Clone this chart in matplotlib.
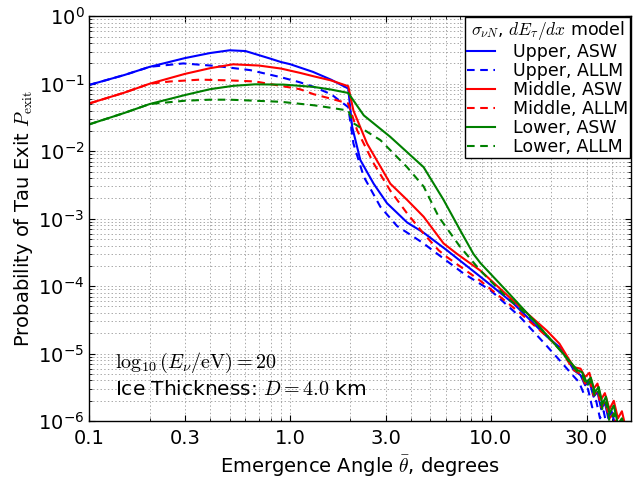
import matplotlib
matplotlib.use("Agg")
import matplotlib.pyplot as plt
from matplotlib.ticker import NullFormatter

plt.rcParams['mathtext.fontset'] = 'cm'
plt.rcParams['font.family'] = ['DejaVu Sans']
plt.rcParams['lines.scale_dashes'] = False

# emergence angle (deg) and exit probability
upper_asw_x = [0.1, 0.15, 0.2, 0.3, 0.4, 0.5, 0.6, 0.8, 0.9, 1.0, 1.3, 1.6, 1.95,
               2.04, 2.24, 2.61, 3.04, 3.83, 4.63, 6.05, 8.88, 13, 19, 22, 24, 25.9,
               28, 29.5, 31, 32.5, 34, 35.5, 37, 38.5, 40, 42]
upper_asw_y = [0.096, 0.135, 0.178, 0.24, 0.285, 0.313, 0.305, 0.235, 0.21, 0.195, 0.15, 0.115, 0.085,
               0.023, 0.0074, 0.0033, 0.0017, 0.00088, 0.00062, 0.00034, 0.000138, 5.5e-5, 1.8e-5, 1.25e-5, 8.5e-6, 5.7e-6,
               4.8e-6, 3.4e-6, 3.9e-6, 2.3e-6, 2.7e-6, 1.5e-6, 1.9e-6, 1.1e-6, 1.4e-6, 8e-7]

upper_allm_x = [0.1, 0.15, 0.2, 0.294, 0.43, 0.634, 0.9, 1.12, 1.31, 1.6, 1.95,
                2.07, 2.33, 2.82, 3.41, 4.63, 5.0, 7.3, 9.96, 14, 19, 22, 25.9,
                27.5, 29, 30.5, 32, 33.5, 35, 36.5, 38]
upper_allm_y = [0.096, 0.135, 0.178, 0.2, 0.183, 0.159, 0.125, 0.105, 0.09, 0.07, 0.045,
                0.013, 0.0042, 0.0015, 0.00078, 0.00043, 0.00036, 0.000155, 8.7e-5, 3.5e-5, 1.3e-5, 8e-6, 4.6e-6,
                3.8e-6, 2.6e-6, 3e-6, 1.6e-6, 2e-6, 1.1e-6, 1.4e-6, 8e-7]

middle_asw_x = [0.1, 0.15, 0.2, 0.3, 0.4, 0.52, 0.7, 0.9, 1.12, 1.31, 1.6, 1.95,
                2.07, 2.42, 3.16, 3.83, 4.63, 5.82, 6.8, 8.88, 14, 19, 22, 25.9,
                28, 29.5, 31, 32.5, 34, 35.5, 37, 39, 41, 43, 45, 47]
middle_asw_y = [0.051, 0.074, 0.1, 0.14, 0.17, 0.194, 0.186, 0.168, 0.145, 0.129, 0.112, 0.092,
                0.04, 0.013, 0.0033, 0.0019, 0.00107, 0.00043, 0.0003, 0.00017, 4.9e-5, 2.2e-5, 1.4e-5, 6.3e-6,
                6e-6, 4.5e-6, 5.2e-6, 3e-6, 3.6e-6, 2.1e-6, 2.6e-6, 1.5e-6, 2e-6, 1.1e-6, 1.4e-6, 8e-7]

middle_allm_x = [0.1, 0.15, 0.2, 0.253, 0.357, 0.5, 0.67, 0.9, 1.12, 1.31, 1.6, 1.95,
                 2.16, 2.61, 3.16, 3.83, 4.63, 5.5, 6.05, 8.88, 14, 19, 22, 25.9,
                 28, 29.5, 31, 32.5, 34, 35.5, 37, 39, 41, 43]
middle_allm_y = [0.051, 0.074, 0.1, 0.108, 0.115, 0.112, 0.108, 0.093, 0.083, 0.07, 0.06, 0.051,
                 0.0204, 0.0066, 0.0026, 0.0012, 0.0006, 0.00034, 0.00027, 0.00012, 4e-5, 1.8e-5, 1.2e-5, 5.7e-6,
                 5e-6, 3.6e-6, 4.2e-6, 2.4e-6, 2.9e-6, 1.6e-6, 2e-6, 1.1e-6, 1.3e-6, 7e-7]

lower_asw_x = [0.1, 0.15, 0.2, 0.3, 0.4, 0.52, 0.67, 0.93, 1.3, 1.6, 1.95,
               2.33, 3.16, 4.63, 5.82, 7.05, 8.2, 8.88, 11.9, 16.4, 22.3, 27,
               28.5, 30, 31.5, 33, 34.5, 36, 37.5, 39, 41, 43, 45, 47]
lower_asw_y = [0.025, 0.037, 0.05, 0.068, 0.083, 0.093, 0.098, 0.097, 0.09, 0.082, 0.073,
               0.034, 0.0163, 0.0058, 0.0019, 0.00067, 0.0003, 0.00022, 8.7e-5, 3.1e-5, 1.1e-5, 5.7e-6,
               5.3e-6, 3.8e-6, 4.4e-6, 2.7e-6, 3.2e-6, 1.8e-6, 2.3e-6, 1.3e-6, 1.7e-6, 9e-7, 1.1e-6, 7e-7]

lower_allm_x = [0.1, 0.15, 0.2, 0.3, 0.4, 0.5, 0.9, 1.31, 1.6, 1.95,
                2.07, 2.82, 3.83, 4.63, 5.5, 7.05, 8.88, 11.9, 16.4, 22.3, 27,
                28.5, 30, 31.5, 33, 34.5, 36, 37.5, 39, 41, 43]
lower_allm_y = [0.025, 0.037, 0.05, 0.056, 0.058, 0.058, 0.054, 0.048, 0.044, 0.04,
                0.026, 0.0146, 0.0058, 0.003, 0.00107, 0.00038, 0.00017, 7e-5, 3.1e-5, 1.1e-5, 5.4e-6,
                4.9e-6, 3.3e-6, 3.9e-6, 2.3e-6, 2.8e-6, 1.5e-6, 1.9e-6, 1e-6, 1.3e-6, 7e-7]

x_ticks = [0.1, 0.3, 1.0, 3.0, 10.0, 30.0]
x_tick_labels = ['0.1', '0.3', '1.0', '3.0', '10.0', '30.0']

series = [
    (upper_asw_x, upper_asw_y, 'b', '-', 'Upper, ASW'),
    (upper_allm_x, upper_allm_y, 'b', '--', 'Upper, ALLM'),
    (middle_asw_x, middle_asw_y, 'r', '-', 'Middle, ASW'),
    (middle_allm_x, middle_allm_y, 'r', '--', 'Middle, ALLM'),
    (lower_asw_x, lower_asw_y, 'g', '-', 'Lower, ASW'),
    (lower_allm_x, lower_allm_y, 'g', '--', 'Lower, ALLM'),
]

fig = plt.figure(figsize=(6.42, 4.78), dpi=100)
ax = fig.add_axes([0.139, 0.119, 0.844, 0.847])

for xs, ys, c, ls, lab in series:
    if ls == '--':
        ax.plot(xs, ys, color=c, lw=1.5, ls=(0, (5.5, 4)), label=lab)
    else:
        ax.plot(xs, ys, color=c, lw=1.5, ls='-', label=lab)

ax.set_xscale('log')
ax.set_yscale('log')
ax.set_xlim(0.1, 50)
ax.set_ylim(1e-6, 1)
ax.set_xticks(x_ticks)
ax.set_xticklabels(x_tick_labels)
ax.xaxis.set_minor_formatter(NullFormatter())
ax.yaxis.set_minor_formatter(NullFormatter())

ax.tick_params(which='both', direction='in', top=True, right=True, labelsize=14)
ax.tick_params(which='major', length=4)
ax.tick_params(which='minor', length=2)
ax.tick_params(axis='x', which='major', pad=6)
ax.grid(True, which='both', ls=':', color='0.6', lw=0.6)
for sp in ax.spines.values():
    sp.set_linewidth(1.0)

ax.set_xlabel(r'Emergence Angle $\bar{\theta}$, degrees', fontsize=14, labelpad=4)
ax.set_ylabel(r'Probability of Tau Exit $P_{\rm exit}$', fontsize=14, labelpad=2)

ax.text(0.048, 0.143, r'$\log_{10}(E_\nu/{\rm eV}) = 20$', transform=ax.transAxes,
        fontsize=14.5, va='center', ha='left')
ax.text(0.048, 0.077, r'Ice Thickness: $D = 4.0$ km', transform=ax.transAxes,
        fontsize=14.5, va='center', ha='left')

leg = ax.legend(loc='upper right', title=r'$\sigma_{\nu N}$, $dE_\tau/dx$ model',
                fontsize=12.5, title_fontsize=12.5, fancybox=False, framealpha=1,
                edgecolor='k', borderaxespad=0.05, handlelength=1.6, handletextpad=1.05,
                labelspacing=0.06, borderpad=0.1)
leg.get_frame().set_linewidth(1.0)

fig.savefig('out.png', dpi=100, facecolor='white')
